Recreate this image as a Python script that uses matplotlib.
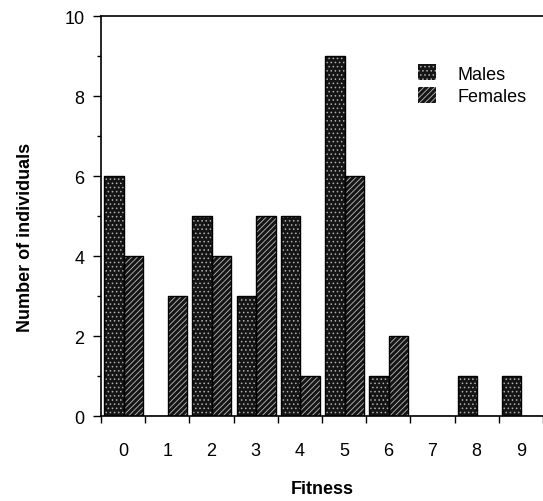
import matplotlib
matplotlib.use("Agg")
import matplotlib.pyplot as plt
import numpy as np
from matplotlib.patches import Patch

fitness = [0, 1, 2, 3, 4, 5, 6, 7, 8, 9]
males = [6, 0, 5, 3, 5, 9, 1, 0, 1, 1]
females = [4, 3, 4, 5, 1, 6, 2, 0, 0, 0]

plt.rcParams['font.family'] = ['Liberation Sans', 'DejaVu Sans']
plt.rcParams['hatch.linewidth'] = 0.6

fig = plt.figure(figsize=(5.43, 5.02), dpi=100)
ax = fig.add_axes([101/543, 1 - 417/502, 442/543, 400/502])

x = np.array(fitness)
w = 0.44
# fill + light hatch, then black outline on top
ax.bar(x - 0.21, males, w, color='#151515', edgecolor='#b0b0b0', hatch='....', linewidth=0)
ax.bar(x + 0.23, females, w, color='#151515', edgecolor='#bcbcbc', hatch='//////', linewidth=0)
ax.bar(x - 0.21, males, w, fill=False, edgecolor='black', linewidth=1.0)
ax.bar(x + 0.23, females, w, fill=False, edgecolor='black', linewidth=1.0)

ax.set_xlim(-0.5, 9.4)
ax.set_ylim(0, 10)

ax.set_yticks([0, 2, 4, 6, 8, 10])
ax.set_yticks([1, 3, 5, 7, 9], minor=True)
ax.tick_params(axis='y', which='major', direction='out', length=6, width=1, labelsize=13, pad=6)
ax.tick_params(axis='y', which='minor', direction='out', length=3, width=1)

ax.set_xticks(x)
ax.set_xticks(np.arange(-0.5, 9.6, 1), minor=True)
ax.tick_params(axis='x', which='major', length=0, labelsize=13, pad=19)
ax.tick_params(axis='x', which='minor', direction='out', length=5, width=1)

ax.spines['right'].set_visible(False)
for s in ['left', 'bottom', 'top']:
    ax.spines[s].set_linewidth(1.2)

ax.set_xlabel("Fitness", fontsize=13, fontweight='bold')
ax.xaxis.set_label_coords(0.5, -0.16)
ax.set_ylabel("Number of individuals", fontsize=13, fontweight='bold')
ax.yaxis.set_label_coords(-0.152, 0.45)

h1 = Patch(facecolor='#151515', edgecolor='#b0b0b0', hatch='....', linewidth=0)
h2 = Patch(facecolor='#151515', edgecolor='#bcbcbc', hatch='//////', linewidth=0)
ax.legend([h1, h2], ["Males", "Females"], loc='upper right', bbox_to_anchor=(1.0, 0.92),
          frameon=False, fontsize=13, handlelength=1.0, handleheight=1.0,
          handletextpad=1.2, labelspacing=0.25)

plt.savefig("out.png", dpi=100)
